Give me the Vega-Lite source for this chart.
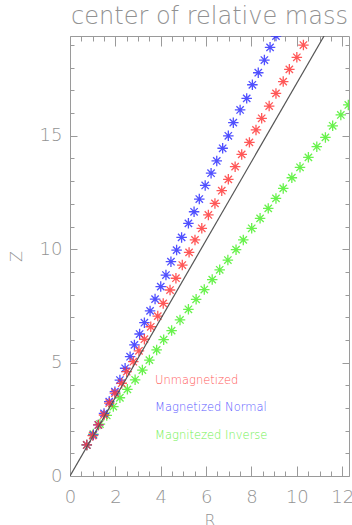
{
  "$schema": "https://vega.github.io/schema/vega-lite/v6.json",
  "width": 279,
  "height": 440,
  "autosize": {"type": "none"},
  "padding": {"left": 70, "top": 36, "right": 3, "bottom": 49},
  "background": "white",
  "title": {
    "text": "center of relative mass",
    "font": "DejaVu Sans",
    "fontSize": 24,
    "fontWeight": 200,
    "color": "#919191",
    "anchor": "middle",
    "baseline": "alphabetic",
    "offset": -12
  },
  "config": {
    "view": {"stroke": "#9a9a9a", "strokeWidth": 1},
    "axis": {
      "grid": false,
      "domain": false,
      "tickColor": "#9a9a9a",
      "tickWidth": 1,
      "labelColor": "#939393",
      "titleColor": "#939393",
      "labelFont": "DejaVu Sans",
      "titleFont": "DejaVu Sans",
      "labelFontSize": 18,
      "labelFontWeight": 200,
      "titleFontSize": 16,
      "titleFontWeight": 200,
      "labelFlush": false,
      "labelOverlap": false
    }
  },
  "datasets": {
    "mass": [
      {"series": "Magnitezed Inverse", "R": 0.74, "Z": 1.37},
      {"series": "Magnitezed Inverse", "R": 1.03, "Z": 1.85},
      {"series": "Magnitezed Inverse", "R": 1.32, "Z": 2.29},
      {"series": "Magnitezed Inverse", "R": 1.62, "Z": 2.67},
      {"series": "Magnitezed Inverse", "R": 1.91, "Z": 3.06},
      {"series": "Magnitezed Inverse", "R": 2.20, "Z": 3.45},
      {"series": "Magnitezed Inverse", "R": 2.53, "Z": 3.82},
      {"series": "Magnitezed Inverse", "R": 2.87, "Z": 4.24},
      {"series": "Magnitezed Inverse", "R": 3.19, "Z": 4.67},
      {"series": "Magnitezed Inverse", "R": 3.50, "Z": 5.11},
      {"series": "Magnitezed Inverse", "R": 3.82, "Z": 5.56},
      {"series": "Magnitezed Inverse", "R": 4.13, "Z": 6.01},
      {"series": "Magnitezed Inverse", "R": 4.48, "Z": 6.41},
      {"series": "Magnitezed Inverse", "R": 4.85, "Z": 6.88},
      {"series": "Magnitezed Inverse", "R": 5.22, "Z": 7.35},
      {"series": "Magnitezed Inverse", "R": 5.56, "Z": 7.79},
      {"series": "Magnitezed Inverse", "R": 5.92, "Z": 8.22},
      {"series": "Magnitezed Inverse", "R": 6.27, "Z": 8.66},
      {"series": "Magnitezed Inverse", "R": 6.60, "Z": 9.09},
      {"series": "Magnitezed Inverse", "R": 6.96, "Z": 9.52},
      {"series": "Magnitezed Inverse", "R": 7.32, "Z": 9.98},
      {"series": "Magnitezed Inverse", "R": 7.64, "Z": 10.41},
      {"series": "Magnitezed Inverse", "R": 8.01, "Z": 10.92},
      {"series": "Magnitezed Inverse", "R": 8.38, "Z": 11.36},
      {"series": "Magnitezed Inverse", "R": 8.74, "Z": 11.80},
      {"series": "Magnitezed Inverse", "R": 9.08, "Z": 12.24},
      {"series": "Magnitezed Inverse", "R": 9.40, "Z": 12.68},
      {"series": "Magnitezed Inverse", "R": 9.78, "Z": 13.15},
      {"series": "Magnitezed Inverse", "R": 10.14, "Z": 13.61},
      {"series": "Magnitezed Inverse", "R": 10.51, "Z": 14.05},
      {"series": "Magnitezed Inverse", "R": 10.88, "Z": 14.52},
      {"series": "Magnitezed Inverse", "R": 11.26, "Z": 14.93},
      {"series": "Magnitezed Inverse", "R": 11.58, "Z": 15.44},
      {"series": "Magnitezed Inverse", "R": 11.94, "Z": 15.92},
      {"series": "Magnitezed Inverse", "R": 12.27, "Z": 16.36},
      {"series": "Magnetized Normal", "R": 0.74, "Z": 1.37},
      {"series": "Magnetized Normal", "R": 1.03, "Z": 1.81},
      {"series": "Magnetized Normal", "R": 1.25, "Z": 2.25},
      {"series": "Magnetized Normal", "R": 1.50, "Z": 2.76},
      {"series": "Magnetized Normal", "R": 1.73, "Z": 3.28},
      {"series": "Magnetized Normal", "R": 1.98, "Z": 3.72},
      {"series": "Magnetized Normal", "R": 2.20, "Z": 4.23},
      {"series": "Magnetized Normal", "R": 2.43, "Z": 4.75},
      {"series": "Magnetized Normal", "R": 2.65, "Z": 5.26},
      {"series": "Magnetized Normal", "R": 2.84, "Z": 5.78},
      {"series": "Magnetized Normal", "R": 3.07, "Z": 6.26},
      {"series": "Magnetized Normal", "R": 3.28, "Z": 6.76},
      {"series": "Magnetized Normal", "R": 3.53, "Z": 7.28},
      {"series": "Magnetized Normal", "R": 3.75, "Z": 7.80},
      {"series": "Magnetized Normal", "R": 4.00, "Z": 8.35},
      {"series": "Magnetized Normal", "R": 4.23, "Z": 8.86},
      {"series": "Magnetized Normal", "R": 4.45, "Z": 9.45},
      {"series": "Magnetized Normal", "R": 4.70, "Z": 9.96},
      {"series": "Magnetized Normal", "R": 4.92, "Z": 10.52},
      {"series": "Magnetized Normal", "R": 5.22, "Z": 11.14},
      {"series": "Magnetized Normal", "R": 5.47, "Z": 11.65},
      {"series": "Magnetized Normal", "R": 5.70, "Z": 12.21},
      {"series": "Magnetized Normal", "R": 5.96, "Z": 12.81},
      {"series": "Magnetized Normal", "R": 6.22, "Z": 13.35},
      {"series": "Magnetized Normal", "R": 6.47, "Z": 13.89},
      {"series": "Magnetized Normal", "R": 6.73, "Z": 14.45},
      {"series": "Magnetized Normal", "R": 6.98, "Z": 15.00},
      {"series": "Magnetized Normal", "R": 7.20, "Z": 15.58},
      {"series": "Magnetized Normal", "R": 7.50, "Z": 16.14},
      {"series": "Magnetized Normal", "R": 7.79, "Z": 16.65},
      {"series": "Magnetized Normal", "R": 8.04, "Z": 17.25},
      {"series": "Magnetized Normal", "R": 8.30, "Z": 17.78},
      {"series": "Magnetized Normal", "R": 8.57, "Z": 18.34},
      {"series": "Magnetized Normal", "R": 8.82, "Z": 18.90},
      {"series": "Magnetized Normal", "R": 9.08, "Z": 19.40},
      {"series": "Unmagnetized", "R": 0.74, "Z": 1.37},
      {"series": "Unmagnetized", "R": 1.00, "Z": 1.78},
      {"series": "Unmagnetized", "R": 1.25, "Z": 2.25},
      {"series": "Unmagnetized", "R": 1.50, "Z": 2.69},
      {"series": "Unmagnetized", "R": 1.73, "Z": 3.21},
      {"series": "Unmagnetized", "R": 1.98, "Z": 3.65},
      {"series": "Unmagnetized", "R": 2.28, "Z": 4.09},
      {"series": "Unmagnetized", "R": 2.50, "Z": 4.60},
      {"series": "Unmagnetized", "R": 2.79, "Z": 5.04},
      {"series": "Unmagnetized", "R": 3.04, "Z": 5.52},
      {"series": "Unmagnetized", "R": 3.28, "Z": 6.03},
      {"series": "Unmagnetized", "R": 3.56, "Z": 6.58},
      {"series": "Unmagnetized", "R": 3.87, "Z": 7.05},
      {"series": "Unmagnetized", "R": 4.11, "Z": 7.61},
      {"series": "Unmagnetized", "R": 4.41, "Z": 8.20},
      {"series": "Unmagnetized", "R": 4.67, "Z": 8.72},
      {"series": "Unmagnetized", "R": 4.95, "Z": 9.30},
      {"series": "Unmagnetized", "R": 5.25, "Z": 9.86},
      {"series": "Unmagnetized", "R": 5.51, "Z": 10.41},
      {"series": "Unmagnetized", "R": 5.81, "Z": 10.92},
      {"series": "Unmagnetized", "R": 6.10, "Z": 11.51},
      {"series": "Unmagnetized", "R": 6.39, "Z": 12.02},
      {"series": "Unmagnetized", "R": 6.69, "Z": 12.58},
      {"series": "Unmagnetized", "R": 6.98, "Z": 13.08},
      {"series": "Unmagnetized", "R": 7.28, "Z": 13.64},
      {"series": "Unmagnetized", "R": 7.57, "Z": 14.18},
      {"series": "Unmagnetized", "R": 7.91, "Z": 14.71},
      {"series": "Unmagnetized", "R": 8.20, "Z": 15.26},
      {"series": "Unmagnetized", "R": 8.45, "Z": 15.77},
      {"series": "Unmagnetized", "R": 8.78, "Z": 16.31},
      {"series": "Unmagnetized", "R": 9.08, "Z": 16.87},
      {"series": "Unmagnetized", "R": 9.40, "Z": 17.39},
      {"series": "Unmagnetized", "R": 9.67, "Z": 17.93},
      {"series": "Unmagnetized", "R": 10.00, "Z": 18.46},
      {"series": "Unmagnetized", "R": 10.29, "Z": 19.00}
    ],
    "diagonal": [
      {"R": 0, "Z": 0},
      {"R": 11.2, "Z": 19.4}
    ],
    "notes": [
      {"series": "Unmagnetized", "R": 3.75, "Z": 4.05},
      {"series": "Magnetized Normal", "R": 3.75, "Z": 2.85},
      {"series": "Magnitezed Inverse", "R": 3.75, "Z": 1.65}
    ]
  },
  "layer": [
    {
      "data": {"name": "mass"},
      "mark": {
        "type": "point",
        "shape": "M-1,0L1,0M0,-1L0,1M-0.7,-0.7L0.7,0.7M-0.7,0.7L0.7,-0.7",
        "filled": false,
        "size": 110,
        "strokeWidth": 1.3,
        "opacity": 0.85,
        "clip": true
      },
      "encoding": {
        "x": {
          "field": "R", "type": "quantitative",
          "scale": {"domain": [0, 12.3], "nice": false, "zero": false},
          "axis": {"orient": "bottom", "values": [0, 2, 4, 6, 8, 10, 12], "tickSize": -10, "labelPadding": 22, "title": "R", "titlePadding": 6}
        },
        "y": {
          "field": "Z", "type": "quantitative",
          "scale": {"domain": [0, 19.4], "nice": false, "zero": false},
          "axis": {"orient": "left", "values": [0, 5, 10, 15], "tickSize": -7, "labelPadding": 15, "title": "Z", "titlePadding": 15}
        },
        "stroke": {
          "field": "series", "type": "nominal",
          "scale": {"domain": ["Unmagnetized", "Magnetized Normal", "Magnitezed Inverse"], "range": ["#ff3c3c", "#3232ff", "#4ff02e"]},
          "legend": null
        }
      }
    },
    {
      "data": {"name": "diagonal"},
      "mark": {"type": "line", "color": "#555555", "strokeWidth": 1.2, "clip": true},
      "encoding": {
        "x": {
          "field": "R", "type": "quantitative",
          "axis": {"orient": "bottom", "values": [0.5, 1, 1.5, 2.5, 3, 3.5, 4.5, 5, 5.5, 6.5, 7, 7.5, 8.5, 9, 9.5, 10.5, 11, 11.5], "tickSize": -5, "labels": false, "title": null}
        },
        "y": {
          "field": "Z", "type": "quantitative",
          "axis": {"orient": "left", "values": [1, 2, 3, 4, 6, 7, 8, 9, 11, 12, 13, 14, 16, 17, 18, 19], "tickSize": -4, "labels": false, "title": null}
        }
      }
    },
    {
      "data": {"name": "notes"},
      "mark": {"type": "text", "align": "left", "baseline": "alphabetic", "font": "DejaVu Sans", "fontSize": 11.5, "fontWeight": 200},
      "encoding": {
        "x": {
          "field": "R", "type": "quantitative",
          "axis": {
            "orient": "top",
            "values": [0, 0.5, 1, 1.5, 2, 2.5, 3, 3.5, 4, 4.5, 5, 5.5, 6, 6.5, 7, 7.5, 8, 8.5, 9, 9.5, 10, 10.5, 11, 11.5, 12],
            "tickSize": {"condition": {"test": "datum.value % 2 === 0", "value": -10}, "value": -5},
            "labels": false, "title": null
          }
        },
        "y": {
          "field": "Z", "type": "quantitative",
          "axis": {
            "orient": "right",
            "values": [0, 1, 2, 3, 4, 5, 6, 7, 8, 9, 10, 11, 12, 13, 14, 15, 16, 17, 18, 19],
            "tickSize": {"condition": {"test": "datum.value % 5 === 0", "value": -7}, "value": -4},
            "labels": false, "title": null
          }
        },
        "text": {"field": "series", "type": "nominal"},
        "fill": {
          "field": "series", "type": "nominal",
          "scale": {"domain": ["Unmagnetized", "Magnetized Normal", "Magnitezed Inverse"], "range": ["#ff5a5a", "#5a5aff", "#70f050"]},
          "legend": null
        }
      }
    }
  ],
  "resolve": {"axis": {"x": "independent", "y": "independent"}}
}
